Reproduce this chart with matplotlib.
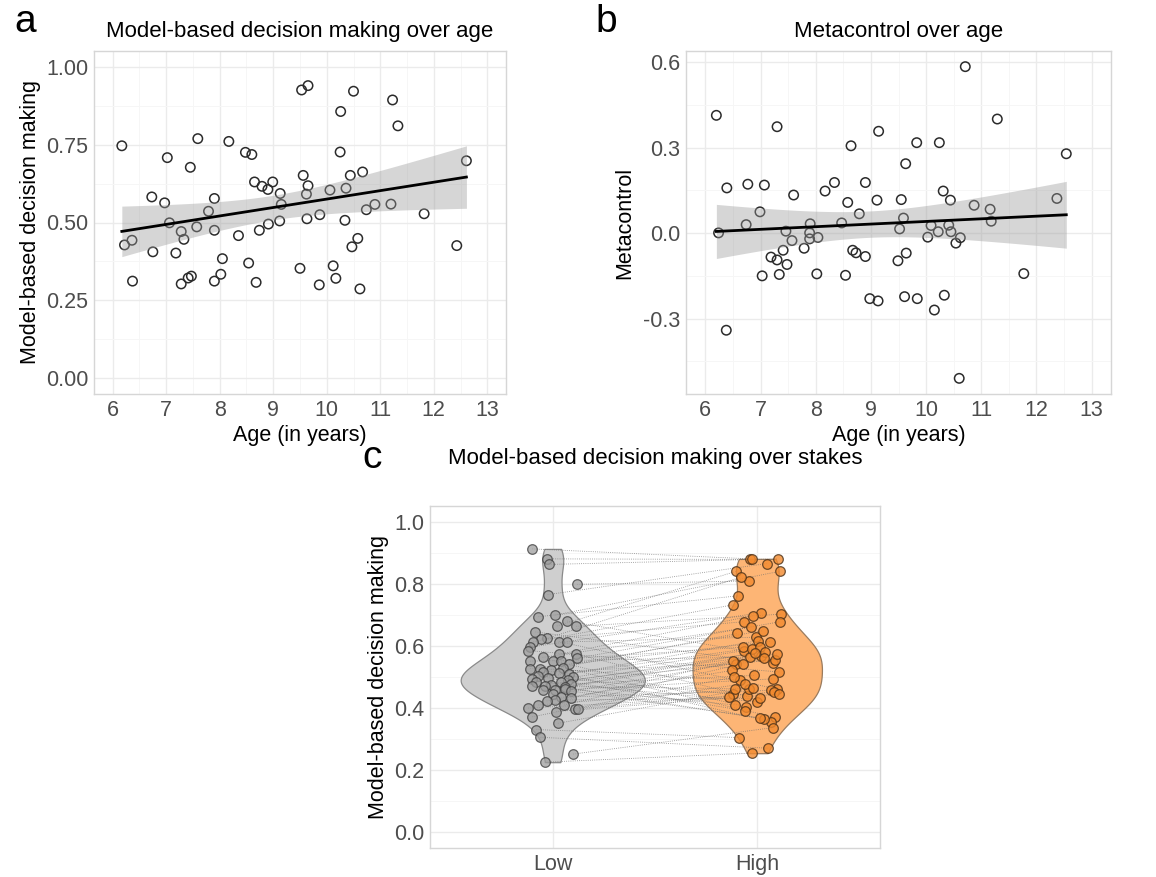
import matplotlib
matplotlib.use("Agg")
import matplotlib.pyplot as plt
import numpy as np
from matplotlib.ticker import MultipleLocator, FormatStrFormatter

plt.rcParams["font.family"] = ["Liberation Sans", "DejaVu Sans"]

# ---- panel a: model-based decision making over age
age_a = [6.17, 6.22, 6.36, 6.37, 6.73, 6.75, 6.97, 7.02, 7.06, 7.18, 7.28, 7.28, 7.33, 7.41,
         7.47, 7.45, 7.57, 7.59, 7.79, 7.90, 7.90, 7.90, 8.02, 8.05, 8.17, 8.35, 8.48, 8.54,
         8.60, 8.65, 8.74, 8.68, 8.79, 8.90, 8.91, 8.99, 9.13, 9.15, 9.12, 9.50, 9.53, 9.56,
         9.65, 9.62, 9.65, 9.63, 9.86, 9.87, 10.06, 10.12, 10.17, 10.26, 10.25, 10.36, 10.34,
         10.44, 10.47, 10.50, 10.58, 10.62, 10.67, 10.74, 10.90, 11.20, 11.23, 11.33, 11.82,
         12.43, 12.61]
mb_a = [0.746, 0.428, 0.443, 0.312, 0.582, 0.406, 0.563, 0.708, 0.499, 0.402, 0.471, 0.303,
        0.446, 0.322, 0.328, 0.677, 0.486, 0.769, 0.536, 0.577, 0.475, 0.312, 0.334, 0.384,
        0.760, 0.458, 0.725, 0.370, 0.718, 0.630, 0.475, 0.308, 0.616, 0.606, 0.495, 0.630,
        0.593, 0.558, 0.505, 0.353, 0.925, 0.651, 0.939, 0.591, 0.618, 0.512, 0.300, 0.525,
        0.604, 0.361, 0.321, 0.856, 0.726, 0.610, 0.507, 0.651, 0.422, 0.921, 0.449, 0.287,
        0.662, 0.541, 0.558, 0.559, 0.893, 0.810, 0.528, 0.426, 0.698]

# ---- panel b: metacontrol over age
age_b = [6.20, 6.24, 6.39, 6.38, 6.74, 6.77, 6.99, 7.03, 7.07, 7.19, 7.30, 7.30, 7.34, 7.41,
         7.46, 7.48, 7.57, 7.60, 7.79, 7.90, 7.89, 7.89, 8.04, 8.02, 8.17, 8.34, 8.47, 8.54,
         8.58, 8.64, 8.67, 8.73, 8.79, 8.90, 8.90, 8.98, 9.11, 9.13, 9.14, 9.49, 9.52, 9.55,
         9.59, 9.63, 9.64, 9.61, 9.83, 9.84, 10.03, 10.09, 10.15, 10.22, 10.24, 10.31, 10.33,
         10.41, 10.44, 10.45, 10.54, 10.62, 10.60, 10.71, 10.87, 11.16, 11.18, 11.29, 11.77,
         12.37, 12.54]
meta_b = [0.414, 0.001, 0.159, -0.341, 0.030, 0.172, 0.075, -0.150, 0.169, -0.084, -0.094,
          0.374, -0.145, -0.060, 0.007, -0.110, -0.026, 0.134, -0.053, 0.033, 0.001, -0.020,
          -0.015, -0.143, 0.148, 0.178, 0.036, -0.148, 0.108, 0.307, -0.060, -0.069, 0.068,
          0.178, -0.082, -0.230, 0.116, -0.238, 0.358, -0.097, 0.015, 0.118, 0.053, 0.244,
          -0.070, -0.223, 0.318, -0.230, -0.014, 0.027, -0.270, 0.005, 0.318, 0.148, -0.218,
          0.028, 0.116, 0.005, -0.035, -0.016, -0.510, 0.585, 0.098, 0.084, 0.042, 0.401,
          -0.142, 0.122, 0.279]

# ---- panel c: model-based decision making over stakes (paired by index)
stakes = ["Low", "High"]
low_mb = [0.912, 0.880, 0.862, 0.798, 0.765, 0.699, 0.694, 0.680, 0.664, 0.663, 0.645, 0.624,
          0.622, 0.614, 0.613, 0.613, 0.596, 0.585, 0.573, 0.573, 0.563, 0.560, 0.553, 0.551,
          0.551, 0.541, 0.530, 0.527, 0.527, 0.524, 0.516, 0.513, 0.510, 0.503, 0.499, 0.497,
          0.495, 0.489, 0.485, 0.483, 0.478, 0.474, 0.472, 0.470, 0.468, 0.462, 0.457, 0.457,
          0.455, 0.444, 0.435, 0.432, 0.426, 0.423, 0.410, 0.410, 0.400, 0.398, 0.398, 0.389,
          0.372, 0.351, 0.331, 0.306, 0.252, 0.226]
low_jit = [0.90, 0.97, 0.98, 1.12, 0.975, 1.01, 0.93, 1.07, 1.02, 1.115, 0.915, 0.97, 0.945,
           1.03, 0.905, 1.07, 0.89, 0.88, 1.03, 1.115, 0.95, 1.12, 1.00, 1.04, 0.89, 1.08,
           1.05, 0.89, 0.94, 0.99, 0.95, 1.03, 1.08, 0.93, 1.10, 0.975, 0.90, 1.075, 0.92,
           1.04, 1.09, 0.99, 0.90, 0.96, 1.06, 1.06, 0.95, 1.01, 1.09, 1.00, 1.04, 1.09, 1.01,
           0.97, 0.93, 1.055, 0.88, 1.11, 1.125, 1.017, 0.90, 1.025, 0.92, 0.94, 1.10, 0.96]
high_mb = [0.880, 0.878, 0.880, 0.809, 0.865, 0.840, 0.761, 0.585, 0.840, 0.702, 0.545, 0.821,
           0.678, 0.461, 0.732, 0.628, 0.707, 0.516, 0.697, 0.438, 0.660, 0.596, 0.404, 0.678,
           0.564, 0.649, 0.370, 0.614, 0.489, 0.640, 0.543, 0.356, 0.617, 0.445, 0.589, 0.391,
           0.596, 0.569, 0.420, 0.582, 0.505, 0.365, 0.556, 0.462, 0.578, 0.410, 0.574, 0.494,
           0.369, 0.561, 0.457, 0.550, 0.431, 0.521, 0.460, 0.543, 0.436, 0.479, 0.452, 0.445,
           0.500, 0.465, 0.305, 0.271, 0.337, 0.255]
high_jit = [1.963, 1.975, 2.103, 1.958, 2.047, 2.112, 1.905, 1.933, 1.897, 2.117, 2.075, 1.92,
            1.937, 2.098, 1.88, 1.992, 2.017, 2.108, 1.978, 1.95, 1.967, 1.93, 1.945, 2.112,
            1.963, 2.027, 2.088, 2.062, 1.917, 1.902, 1.897, 2.068, 2.005, 1.88, 1.975, 1.942,
            2.012, 2.017, 2.0, 2.037, 1.983, 2.033, 2.085, 1.958, 1.987, 1.892, 2.095, 2.075,
            2.013, 2.033, 2.067, 1.883, 2.013, 1.875, 1.892, 1.93, 1.863, 1.94, 2.083, 2.108,
            1.888, 1.978, 1.913, 2.053, 2.075, 1.972]

W, H = 1156, 877
GRID_MAJ = "#ebebeb"
GRID_MIN = "#f6f6f6"
BORDER = "#d6d6d6"
TICK_C = "#4d4d4d"
TICK_FS = 15.5
LAB_FS = 15.5
TITLE_FS = 16


def add_box(fig, left, top, right, bottom):
    return fig.add_axes([left / W, 1 - bottom / H, (right - left) / W, (bottom - top) / H])


def style(ax):
    for s in ax.spines.values():
        s.set_color(BORDER)
        s.set_linewidth(1.0)
    ax.grid(which="major", color=GRID_MAJ, lw=1.0)
    ax.grid(which="minor", color=GRID_MIN, lw=0.7)
    ax.set_axisbelow(True)
    ax.tick_params(which="both", length=0, labelsize=TICK_FS, labelcolor=TICK_C, pad=4)


def lm_band(x, y, xs):
    x = np.asarray(x)
    y = np.asarray(y)
    b, a = np.polyfit(x, y, 1)
    fit = a + b * xs
    resid = y - (a + b * x)
    n = len(x)
    s = np.sqrt(np.sum(resid ** 2) / (n - 2))
    se = s * np.sqrt(1 / n + (xs - x.mean()) ** 2 / np.sum((x - x.mean()) ** 2))
    t = 1.996  # t quantile 0.975, df = 67
    return fit, fit - t * se, fit + t * se


def age_panel(ax, x, y, ylim, ymaj, ymin):
    ax.scatter(x, y, s=46, facecolors="none", edgecolors="#2b2b2b", linewidths=1.1, zorder=2)
    xs = np.linspace(min(x), max(x), 100)
    fit, lo, hi = lm_band(x, y, xs)
    ax.fill_between(xs, lo, hi, color="#999999", alpha=0.4, lw=0, zorder=3)
    ax.plot(xs, fit, color="black", lw=2.0, zorder=4)
    ax.set_xlim(5.65, 13.35)
    ax.set_ylim(*ylim)
    ax.xaxis.set_major_locator(MultipleLocator(1))
    ax.xaxis.set_minor_locator(MultipleLocator(0.5))
    ax.yaxis.set_major_locator(MultipleLocator(ymaj))
    ax.yaxis.set_minor_locator(MultipleLocator(ymin))
    style(ax)
    ax.set_xlabel("Age (in years)", fontsize=LAB_FS, labelpad=3)


def kde(vals, grid):
    v = np.asarray(vals)
    n = len(v)
    q75, q25 = np.percentile(v, [75, 25])
    bw = 0.9 * min(v.std(ddof=1), (q75 - q25) / 1.34) * n ** -0.2
    z = (grid[:, None] - v[None, :]) / bw
    return np.exp(-0.5 * z ** 2).sum(axis=1) / (n * bw * np.sqrt(2 * np.pi))


fig = plt.figure(figsize=(W / 100, H / 100), dpi=100)

# panel a
ax_a = add_box(fig, 94, 51, 506, 394)
age_panel(ax_a, age_a, mb_a, (-0.05, 1.05), 0.25, 0.125)
ax_a.yaxis.set_major_formatter(FormatStrFormatter("%.2f"))
ax_a.set_ylabel("Model-based decision making", fontsize=LAB_FS, labelpad=4)
ax_a.set_title("Model-based decision making over age", fontsize=TITLE_FS, pad=10)
fig.text(14 / W, 1 - 22 / H, "a", fontsize=28, va="center", ha="left")

# panel b
ax_b = add_box(fig, 686, 51, 1111, 394)
age_panel(ax_b, age_b, meta_b, (-0.565, 0.64), 0.3, 0.15)
ax_b.yaxis.set_major_formatter(FormatStrFormatter("%.1f"))
ax_b.set_ylabel("Metacontrol", fontsize=LAB_FS, labelpad=6)
ax_b.set_title("Metacontrol over age", fontsize=TITLE_FS, pad=10)
fig.text(595 / W, 1 - 22 / H, "b", fontsize=28, va="center", ha="left")

# panel c
ax_c = add_box(fig, 430, 506, 880, 848)
groups = [(low_mb, 1, "#cfcfcf", "#8a8a8a"), (high_mb, 2, "#fdb575", "#9a7b5e")]
dens = []
for vals, pos, fc, ec in groups:
    grid = np.linspace(min(vals), max(vals), 512)
    dens.append((grid, kde(vals, grid)))
dmax = max(d.max() for _, d in dens)
for (grid, d), (vals, pos, fc, ec) in zip(dens, groups):
    half = 0.45 * d / dmax
    ax_c.fill_betweenx(grid, pos - half, pos + half, facecolor=fc, edgecolor=ec,
                       lw=0.9, zorder=1)
for xl, yl, xh, yh in zip(low_jit, low_mb, high_jit, high_mb):
    ax_c.plot([xl, xh], [yl, yh], color="#6e6e6e", lw=0.6, ls=(0, (1, 1.6)),
              alpha=0.8, zorder=2)
ax_c.scatter(low_jit, low_mb, s=48, facecolor="#9e9e9e", edgecolor="#3a3a3a",
             linewidths=0.9, alpha=0.75, zorder=3)
ax_c.scatter(high_jit, high_mb, s=48, facecolor="#f28a2e", edgecolor="#4a3018",
             linewidths=0.9, alpha=0.8, zorder=3)
ax_c.set_xlim(0.4, 2.6)
ax_c.set_ylim(-0.05, 1.05)
ax_c.set_xticks([1, 2])
ax_c.set_xticklabels(stakes)
ax_c.yaxis.set_major_locator(MultipleLocator(0.2))
ax_c.yaxis.set_minor_locator(MultipleLocator(0.1))
ax_c.yaxis.set_major_formatter(FormatStrFormatter("%.1f"))
style(ax_c)
ax_c.grid(which="minor", axis="x", visible=False)
ax_c.set_ylabel("Model-based decision making", fontsize=LAB_FS, labelpad=4)
ax_c.set_title("Model-based decision making over stakes", fontsize=TITLE_FS, pad=30)
fig.text(362 / W, 1 - 458 / H, "c", fontsize=28, va="center", ha="left")

fig.savefig("out.png", dpi=100)
